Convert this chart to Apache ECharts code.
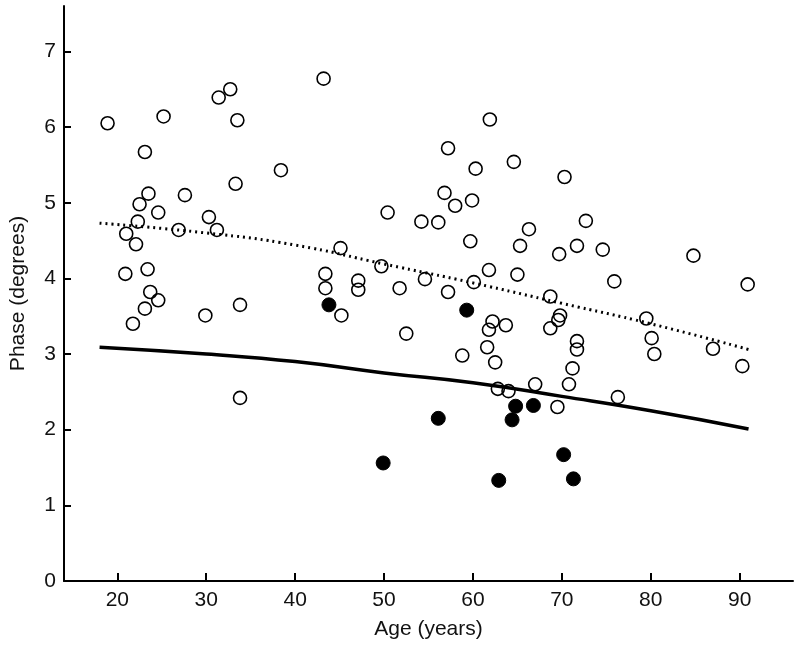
<!DOCTYPE html>
<html>
<head>
<meta charset="utf-8">
<script src="https://cdn.jsdelivr.net/npm/echarts@6/dist/echarts.min.js"></script>
<style>
  html, body { margin: 0; padding: 0; background: #fff; }
  #phasechart { width: 800px; height: 651px; }
</style>
</head>
<body>
<div id="phasechart"></div>
<script>
// open circles
var openAge = [18.9, 23.1, 25.2, 31.4, 32.7, 33.5, 43.2, 38.4, 33.3, 23.5, 22.5, 27.6, 24.6, 22.3, 30.3,
    21.0, 26.9, 31.2, 22.1, 45.1, 20.9, 23.4, 43.4, 23.7, 24.6, 23.1, 21.75, 29.9, 33.8, 33.8, 43.4, 45.2,
    61.9, 57.2, 64.6, 60.3, 70.3, 56.8, 58.0, 59.9, 50.4, 54.2, 56.1, 66.3, 59.7, 65.3, 69.7, 71.7, 49.7,
    61.8, 65.0, 47.1, 47.1, 54.6, 60.1, 51.75, 57.2, 62.2, 63.7, 61.8, 52.5, 61.6, 58.8, 62.5, 68.7, 69.8,
    69.6, 68.7, 71.7, 71.7, 71.2, 70.8, 67.0, 62.8, 64.0, 69.5, 72.7, 74.6, 84.8, 75.9, 90.9, 79.5, 80.1,
    80.4, 87.0, 90.3, 76.3];
var openPhase = [6.05, 5.67, 6.14, 6.39, 6.50, 6.09, 6.64, 5.43, 5.25, 5.12, 4.98, 5.10, 4.87, 4.75, 4.81,
    4.59, 4.64, 4.64, 4.45, 4.40, 4.06, 4.12, 4.06, 3.82, 3.71, 3.60, 3.40, 3.51, 3.65, 2.42, 3.87, 3.51,
    6.10, 5.72, 5.54, 5.45, 5.34, 5.13, 4.96, 5.03, 4.87, 4.75, 4.74, 4.65, 4.49, 4.43, 4.32, 4.43, 4.16,
    4.11, 4.05, 3.97, 3.85, 3.99, 3.95, 3.87, 3.82, 3.43, 3.38, 3.32, 3.27, 3.09, 2.98, 2.89, 3.76, 3.51,
    3.45, 3.34, 3.17, 3.06, 2.81, 2.60, 2.60, 2.54, 2.51, 2.30, 4.76, 4.38, 4.30, 3.96, 3.92, 3.47, 3.21,
    3.00, 3.07, 2.84, 2.43];

// filled circles
var filledAge = [43.8, 59.3, 56.1, 64.8, 66.8, 64.4, 49.9, 62.9, 70.2, 71.3];
var filledPhase = [3.65, 3.58, 2.15, 2.31, 2.32, 2.13, 1.56, 1.33, 1.67, 1.35];

// fitted curves
var fitAge = [18, 30, 40, 50, 60, 70, 80, 91];
var solidPhase = [3.09, 3.00, 2.90, 2.75, 2.62, 2.44, 2.25, 2.01];
var dottedPhase = [4.73, 4.60, 4.44, 4.19, 3.94, 3.67, 3.40, 3.06];

var xTicks = [20, 30, 40, 50, 60, 70, 80, 90];
var yTicks = [0, 1, 2, 3, 4, 5, 6, 7];

function pairs(xs, ys) {
    var out = [];
    for (var i = 0; i < xs.length; i++) {
        out.push([xs[i], ys[i]]);
    }
    return out;
}

var fontName = "'Liberation Sans', Arial, sans-serif";

var chart = echarts.init(document.getElementById("phasechart"));
var option = {
    animation: false,
    backgroundColor: '#fff',
    grid: { left: 63, right: 7, top: 6, bottom: 70 },
    xAxis: {
        type: 'value',
        min: 14,
        max: 96,
        name: 'Age (years)',
        nameLocation: 'middle',
        nameGap: 38,
        nameTextStyle: { color: '#111', fontSize: 21, fontFamily: fontName },
        axisLine: { onZero: false, lineStyle: { color: '#000', width: 2 } },
        axisTick: { inside: true, length: 8, customValues: xTicks, lineStyle: { color: '#000', width: 2 } },
        axisLabel: { customValues: xTicks, margin: 9, color: '#111', fontSize: 21, fontFamily: fontName },
        splitLine: { show: false }
    },
    yAxis: {
        type: 'value',
        min: 0,
        max: 7.6,
        name: 'Phase (degrees)',
        nameLocation: 'middle',
        nameGap: 35,
        nameTextStyle: { color: '#111', fontSize: 21, fontFamily: fontName },
        axisLine: { onZero: false, lineStyle: { color: '#000', width: 2 } },
        axisTick: { inside: true, length: 7, customValues: yTicks, lineStyle: { color: '#000', width: 2 } },
        axisLabel: { customValues: yTicks, margin: 8, color: '#111', fontSize: 21, fontFamily: fontName },
        splitLine: { show: false }
    },
    series: [
        {
            name: 'dotted fit',
            type: 'line',
            smooth: true,
            showSymbol: false,
            data: pairs(fitAge, dottedPhase),
            lineStyle: { color: '#000', width: 3, type: [2, 4] },
            z: 1
        },
        {
            name: 'solid fit',
            type: 'line',
            smooth: true,
            showSymbol: false,
            data: pairs(fitAge, solidPhase),
            lineStyle: { color: '#000', width: 3.5 },
            z: 1
        },
        {
            name: 'open',
            type: 'scatter',
            symbol: 'circle',
            symbolSize: 13,
            data: pairs(openAge, openPhase),
            itemStyle: { color: 'transparent', borderColor: '#000', borderWidth: 1.6, opacity: 1 },
            z: 2
        },
        {
            name: 'filled',
            type: 'scatter',
            symbol: 'circle',
            symbolSize: 14,
            data: pairs(filledAge, filledPhase),
            itemStyle: { color: '#000', borderColor: '#000', borderWidth: 1, opacity: 1 },
            z: 3
        }
    ]
};
chart.setOption(option);
</script>
</body>
</html>
